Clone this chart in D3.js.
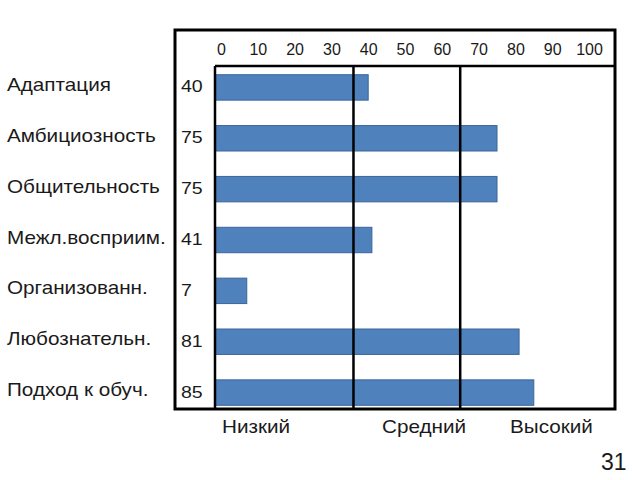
<!DOCTYPE html>
<html>
<head>
<meta charset="utf-8">
<script src="https://cdn.jsdelivr.net/npm/d3@7"></script>
<style>
  html, body { margin: 0; padding: 0; background: #fff; }
  svg { display: block; }
  text { font-family: "Liberation Sans", Arial, sans-serif; fill: #1a1a1a; }
</style>
</head>
<body>
<script>
// ---- data ----
const categories = ["Адаптация", "Амбициозность", "Общительность", "Межл.восприим.", "Организованн.", "Любознательн.", "Подход к обуч."];
const values = [40, 75, 75, 41, 7, 81, 85];
const tickValues = [0, 10, 20, 30, 40, 50, 60, 70, 80, 90, 100];
const thresholds = [36, 65];
const levelLabels = ["Низкий", "Средний", "Высокий"];
const pageNumber = "31";

// ---- layout ----
const W = 640, H = 480;
const outer = { x0: 175, y0: 30, x1: 615, y1: 409 };
const inner = { x0: 215, y0: 66 };
const sx = 1.15; // horizontal text stretch

const svg = d3.select("body").append("svg").attr("width", W).attr("height", H);

const x = d3.scaleLinear().domain([0, 100]).range([221, 589]);
const y = d3.scaleBand().domain(categories).range([62, 418]).paddingInner(0.5).paddingOuter(0.25);

function stretchedText(g, tx, ty, str, size, anchor) {
  return g.append("text")
    .attr("transform", `translate(${tx},${ty}) scale(${sx},1)`)
    .attr("font-size", size)
    .attr("text-anchor", anchor || "start")
    .text(str);
}

// bars
svg.append("g").selectAll("rect").data(values).join("rect")
  .attr("x", inner.x0)
  .attr("y", (d, i) => y(categories[i]))
  .attr("width", d => x(d) - inner.x0)
  .attr("height", y.bandwidth())
  .attr("fill", "#4f81bd")
  .attr("stroke", "#3b659a")
  .attr("stroke-width", 1);

// frame lines
const lines = svg.append("g").attr("stroke", "#000").attr("fill", "none");
lines.append("rect")
  .attr("x", outer.x0).attr("y", outer.y0)
  .attr("width", outer.x1 - outer.x0).attr("height", outer.y1 - outer.y0)
  .attr("stroke-width", 3);
lines.append("line").attr("x1", inner.x0).attr("x2", inner.x0).attr("y1", inner.y0).attr("y2", outer.y1).attr("stroke-width", 2.5);
lines.append("line").attr("x1", inner.x0).attr("x2", outer.x1).attr("y1", inner.y0).attr("y2", inner.y0).attr("stroke-width", 2.5);
lines.selectAll("line.th").data(thresholds).join("line")
  .attr("class", "th")
  .attr("x1", d => x(d)).attr("x2", d => x(d))
  .attr("y1", inner.y0).attr("y2", outer.y1)
  .attr("stroke-width", 2.5);

// top axis (labels only)
const axis = svg.append("g")
  .attr("transform", `translate(0,${inner.y0 - 11})`)
  .call(d3.axisTop(x).tickValues(tickValues).tickSize(0).tickPadding(0));
axis.select(".domain").remove();
axis.attr("font-size", 16).attr("font-family", "Liberation Sans, Arial, sans-serif");
axis.selectAll("text").attr("font-size", 16).attr("fill", "#1a1a1a").attr("dy", 0);

// category labels
const cg = svg.append("g");
categories.forEach((c, i) => {
  stretchedText(cg, 7, y(c) + y.bandwidth() / 2 + 3.5, c, 18);
});

// value labels
const vg = svg.append("g");
values.forEach((v, i) => {
  stretchedText(vg, 181, y(categories[i]) + y.bandwidth() / 2 + 5, String(v), 17);
});

// level labels
const lg = svg.append("g");
const levelX = [222, 382, 510];
levelLabels.forEach((l, i) => stretchedText(lg, levelX[i], 433, l, 18));

// page number
svg.append("text").attr("x", 601).attr("y", 470).attr("font-size", 23).text(pageNumber);
</script>
</body>
</html>
